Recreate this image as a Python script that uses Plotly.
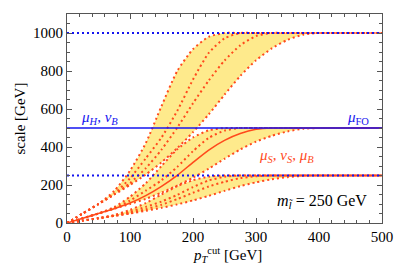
import plotly.graph_objects as go

# ---- data ----
pt = [0, 25, 50, 75, 100, 125, 150, 175, 200, 225, 250, 275, 300, 325, 350, 375, 400, 425, 450, 475, 500]

# scale curves that level off at 2*mu_FO = 1000 GeV
top_early   = [0, 50, 100, 169, 275, 420, 615, 800, 915, 980, 1000, 1000, 1000, 1000, 1000, 1000, 1000, 1000, 1000, 1000, 1000]
top_mid     = [0, 50, 100, 155, 235, 340, 450, 590, 755, 895, 972, 1000, 1000, 1000, 1000, 1000, 1000, 1000, 1000, 1000, 1000]
top_central = [0, 50, 100, 150, 210, 288, 386, 502, 630, 750, 855, 935, 984, 1000, 1000, 1000, 1000, 1000, 1000, 1000, 1000]
top_late    = [0, 50, 100, 150, 200, 255, 319, 394, 478, 572, 675, 774, 856, 919, 964, 991, 1000, 1000, 1000, 1000, 1000]

# scale curves that level off at mu_FO = 500 GeV
mid_early   = [0, 25, 50, 84, 138, 209, 300, 388, 450, 488, 500, 500, 500, 500, 500, 500, 500, 500, 500, 500, 500]
mid_mid     = [0, 25, 50, 78, 118, 170, 225, 295, 378, 448, 486, 500, 500, 500, 500, 500, 500, 500, 500, 500, 500]
mid_central = [0, 25, 50, 75, 105, 144, 193, 251, 319, 384, 435, 471, 493, 500, 500, 500, 500, 500, 500, 500, 500]
mid_late    = [0, 25, 50, 75, 100, 127, 160, 197, 239, 286, 338, 387, 428, 459, 482, 496, 500, 500, 500, 500, 500]

# scale curves that level off at mu_FO/2 = 250 GeV
bot_early   = [0, 12.5, 25, 42, 69, 105, 150, 194, 225, 244, 250, 250, 250, 250, 250, 250, 250, 250, 250, 250, 250]
bot_mid     = [0, 12.5, 25, 39, 59, 85, 113, 148, 189, 224, 243, 250, 250, 250, 250, 250, 250, 250, 250, 250, 250]
bot_central = [0, 12.5, 25, 37.5, 52, 72, 96, 126, 159, 192, 217, 236, 246, 250, 250, 250, 250, 250, 250, 250, 250]
bot_late    = [0, 12.5, 25, 37.5, 50, 64, 80, 98, 119, 143, 169, 194, 214, 230, 241, 248, 250, 250, 250, 250, 250]

fo_x = [0, 500]
fo_up = [1000, 1000]
fo_central = [500, 500]
fo_down = [250, 250]

YELLOW = "#feea8c"
RED = "#ff4a1c"
BLUE = "#1414f0"
SERIF = "Liberation Serif, Times New Roman, DejaVu Serif, serif"
FRAME = "#555555"

fig = go.Figure()

def band(lower, upper):
    fig.add_trace(go.Scatter(x=pt, y=lower, mode="lines", line=dict(width=0, shape="spline", smoothing=0.6),
                             hoverinfo="skip"))
    fig.add_trace(go.Scatter(x=pt, y=upper, mode="lines", line=dict(width=0, shape="spline", smoothing=0.6),
                             fill="tonexty", fillcolor=YELLOW, hoverinfo="skip"))

band(top_late, top_early)
band(mid_late, mid_early)
band(bot_late, bot_early)

for ys in [top_early, top_mid, top_central, top_late,
           mid_early, mid_mid, mid_late,
           bot_early, bot_mid, bot_central, bot_late]:
    fig.add_trace(go.Scatter(x=pt, y=ys, mode="lines",
                             line=dict(color=RED, width=2, dash="2px,3px", shape="spline", smoothing=0.6)))

fig.add_trace(go.Scatter(x=pt, y=mid_central, mode="lines",
                         line=dict(color=RED, width=1.6, shape="spline", smoothing=0.6)))

fig.add_trace(go.Scatter(x=fo_x, y=fo_up, mode="lines", line=dict(color=BLUE, width=2, dash="2px,3px")))
fig.add_trace(go.Scatter(x=fo_x, y=fo_down, mode="lines", line=dict(color=BLUE, width=2, dash="2px,3px")))
fig.add_trace(go.Scatter(x=fo_x, y=fo_central, mode="lines", line=dict(color=BLUE, width=1.6)))

ann = [
    dict(x=52, y=555, text="<i>μ<sub>H</sub></i>, <i>ν<sub>B</sub></i>", font=dict(color=BLUE, size=15)),
    dict(x=462, y=555, text="<i>μ</i><sub>FO</sub>", font=dict(color=BLUE, size=15)),
    dict(x=349, y=355, text="<i>μ<sub>S</sub></i>, <i>ν<sub>S</sub></i>, <i>μ<sub>B</sub></i>", font=dict(color=RED, size=15)),
    dict(x=404, y=112, text="<i>m</i><sub><i>l\u0303</i></sub> = 250 GeV", font=dict(color="black", size=16)),
]
for a in ann:
    a.update(xref="x", yref="y", showarrow=False, xanchor="center", yanchor="middle")
    a["font"]["family"] = SERIF
# axis titles
ann.append(dict(xref="paper", yref="paper", x=0.51, y=-0.155, showarrow=False, xanchor="center", yanchor="middle",
                text="<i>p</i><sub><i>T</i></sub><sup>cut</sup> [GeV]",
                font=dict(family=SERIF, size=15, color="black")))
ann.append(dict(xref="paper", yref="paper", x=-0.152, y=0.5, showarrow=False, xanchor="center", yanchor="middle",
                textangle=-90, text="scale [GeV]",
                font=dict(family=SERIF, size=15, color="black")))
fig.update_layout(annotations=ann)

axis_common = dict(showline=True, linecolor=FRAME, linewidth=1, mirror="allticks",
                   ticks="inside", ticklen=5, tickcolor=FRAME, showgrid=False, zeroline=False,
                   automargin=False, tickfont=dict(family=SERIF, size=15, color="black"))

fig.update_xaxes(range=[0, 500], dtick=100, tick0=0,
                 minor=dict(ticks="inside", ticklen=3, dtick=20, tickcolor=FRAME, showgrid=False),
                 **axis_common)
fig.update_yaxes(range=[0, 1100], dtick=200, tick0=0,
                 minor=dict(ticks="inside", ticklen=3, dtick=50, tickcolor=FRAME, showgrid=False),
                 **axis_common)

fig.update_layout(width=399, height=275, margin=dict(l=67, r=17, t=14, b=52),
                  plot_bgcolor="white", paper_bgcolor="white", showlegend=False,
                  font=dict(family=SERIF))

fig.write_html("out.html", config={"displayModeBar": False},
               post_script="document.body.style.margin='0px';")
